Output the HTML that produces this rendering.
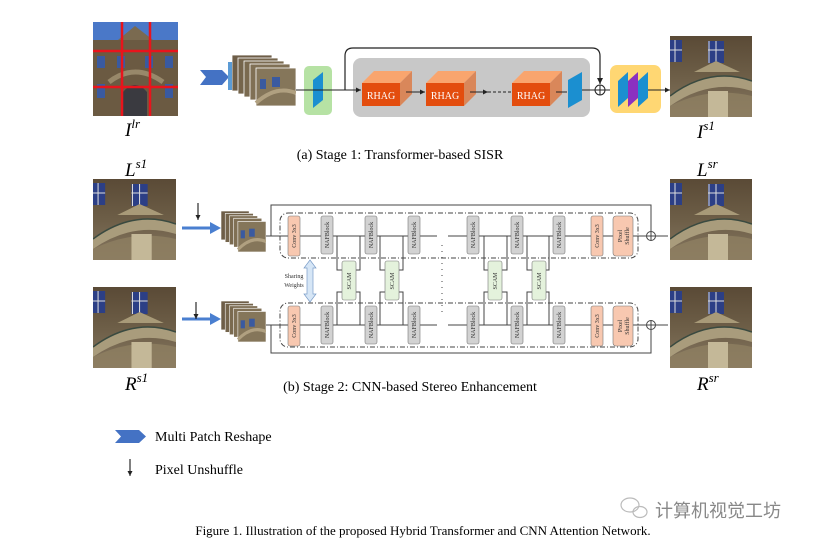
<!DOCTYPE html>
<html><head><meta charset="utf-8"><style>
body{margin:0;background:#fff}
svg{display:block}
text{font-family:"Liberation Serif",serif}
</style></head><body>
<svg width="819" height="546" viewBox="0 0 819 546" xmlns="http://www.w3.org/2000/svg">
<defs>
<marker id="a" markerWidth="6" markerHeight="6" refX="5" refY="3" orient="auto"><path d="M0,0.5 L5,3 L0,5.5z" fill="#222"/></marker>
<linearGradient id="ph" x1="0" y1="0" x2="0" y2="1"><stop offset="0" stop-color="#5a4a36"/><stop offset="0.5" stop-color="#6d5e47"/><stop offset="1" stop-color="#857660"/></linearGradient>
<symbol id="photo" viewBox="0 0 82 81" preserveAspectRatio="none">
<rect width="82" height="81" fill="url(#ph)"/>
<rect x="0" y="4" width="12" height="22" fill="#2c3f86"/><rect x="38" y="5" width="16" height="22" fill="#2c3f86"/>
<path d="M39 5v22M46 5v22M38 14h16M0 14h12M5 4v22" stroke="#ddd" stroke-width="1"/>
<path d="M24 36 L46 25 L70 36z" fill="#a89a78"/>
<path d="M0 60 Q40 30 82 45 L82 55 Q40 42 0 70z" fill="#a99c7c"/>
<path d="M0 70 Q40 50 82 60 L82 81 L0 81z" fill="#8f8062" opacity="0.8"/>
<rect x="38" y="55" width="20" height="26" fill="#c4b898"/>
<path d="M0 60 Q40 30 82 45" stroke="#3a4a40" stroke-width="1.5" fill="none"/>
</symbol>
<symbol id="fac" viewBox="0 0 85 94" preserveAspectRatio="none">
<rect width="85" height="94" fill="#6b5a42"/><rect width="85" height="18" fill="#4a78c8"/>
<path d="M25 18 L42 4 L60 18z" fill="#7a6a50"/>
<rect x="4" y="34" width="8" height="12" fill="#3a5aa0"/><rect x="24" y="34" width="8" height="12" fill="#3a5aa0"/><rect x="52" y="34" width="8" height="12" fill="#3a5aa0"/><rect x="72" y="34" width="8" height="12" fill="#3a5aa0"/>
<rect x="4" y="62" width="8" height="14" fill="#3a5aa0"/><rect x="72" y="62" width="8" height="14" fill="#3a5aa0"/>
<path d="M30 94 V70 Q42 56 54 70 V94z" fill="#3a3a40"/>
<path d="M16 60 Q42 40 70 60" stroke="#98886a" stroke-width="5" fill="none"/>
</symbol>
<symbol id="stack" viewBox="0 0 64 51" preserveAspectRatio="none">
<rect x="0" y="0" width="40" height="36" fill="#6e5e48" stroke="#fff" stroke-width="0.8"/>
<rect x="6" y="3" width="40" height="36" fill="#75654c" stroke="#fff" stroke-width="0.8"/>
<rect x="12" y="6" width="40" height="36" fill="#7a6a50" stroke="#fff" stroke-width="0.8"/>
<rect x="18" y="9" width="40" height="36" fill="#807055" stroke="#fff" stroke-width="0.8"/>
<rect x="24" y="13" width="40" height="38" fill="#85765a" stroke="#fff" stroke-width="0.8"/>
<rect x="40" y="22" width="8" height="10" fill="#3a5aa0"/><rect x="28" y="24" width="6" height="10" fill="#3a5aa0"/>
<path d="M24 48 Q44 30 64 38" stroke="#b0a080" stroke-width="4" fill="none"/>
</symbol>
</defs>

<!-- Stage 1 -->
<use href="#fac" x="93" y="22" width="85" height="94"/>
<path d="M93 51H178M93 87H178M122 22V116M150 22V116" stroke="#e8141c" stroke-width="2.5"/>
<text x="125" y="136" font-size="19" font-style="italic">I<tspan font-size="13" dy="-8">lr</tspan></text>
<path d="M200 70 H222 L229 77 L222 85 H200 L206 77z" fill="#4472c4"/>
<rect x="228" y="62" width="4" height="28" fill="#5b9bd5"/>
<use href="#stack" x="232" y="55" width="64" height="51"/>
<rect x="304" y="66" width="28" height="49" rx="5" fill="#b6e2a4"/>
<path d="M313 80 L323 72 V100 L313 108z" fill="#1b8fd0"/>
<rect x="353" y="58" width="237" height="59" rx="8" fill="#c8c8c8"/>
<path d="M296 90H361" stroke="#222" marker-end="url(#a)"/>
<path d="M345 90 V56 Q345 48 353 48 H592 Q600 48 600 56 V84" stroke="#222" fill="none" stroke-width="1.2" marker-end="url(#a)"/>
<g>
<path d="M362 83 L374 71 H412 L400 83z" fill="#f9a56e"/><path d="M400 83 L412 71 V94 L400 106z" fill="#d9875a"/><rect x="362" y="83" width="38" height="23" fill="#e34d0e"/>
<text x="381" y="99" font-size="10" fill="#fff" text-anchor="middle">RHAG</text>
<path d="M426 83 L438 71 H476 L464 83z" fill="#f9a56e"/><path d="M464 83 L476 71 V94 L464 106z" fill="#d9875a"/><rect x="426" y="83" width="38" height="23" fill="#e34d0e"/>
<text x="445" y="99" font-size="10" fill="#fff" text-anchor="middle">RHAG</text>
<path d="M512 83 L524 71 H562 L550 83z" fill="#f9a56e"/><path d="M550 83 L562 71 V94 L550 106z" fill="#d9875a"/><rect x="512" y="83" width="38" height="23" fill="#e34d0e"/>
<text x="531" y="99" font-size="10" fill="#fff" text-anchor="middle">RHAG</text>
</g>
<path d="M406 92H425" stroke="#222" marker-end="url(#a)"/>
<path d="M470 92H488" stroke="#222" marker-end="url(#a)"/>
<path d="M488 92H511" stroke="#222" stroke-dasharray="3,2"/>
<path d="M556 92H567" stroke="#222"/>
<path d="M568 80 L582 72 V100 L568 108z" fill="#1b8fd0"/>
<path d="M582 90H595" stroke="#222"/>
<circle cx="600" cy="90" r="5" fill="#fff" stroke="#222"/><path d="M595 90H605M600 85V95" stroke="#222"/>
<path d="M605 90H618" stroke="#222" marker-end="url(#a)"/>
<rect x="610" y="65" width="51" height="48" rx="7" fill="#ffd773"/>
<path d="M618 81 L628 72 V98 L618 107z" fill="#1b8fd0"/>
<path d="M628 81 L638 72 V98 L628 107z" fill="#8b30c0"/>
<path d="M638 81 L648 72 V98 L638 107z" fill="#1b8fd0"/>
<path d="M648 90H670" stroke="#222" marker-end="url(#a)"/>
<use href="#photo" x="670" y="36" width="82" height="81"/>
<text x="697" y="138" font-size="19" font-style="italic">I<tspan font-size="13" dy="-8">s1</tspan></text>
<text x="400" y="159" font-size="14" text-anchor="middle">(a) Stage 1: Transformer-based SISR</text>

<!-- Stage 2 -->
<text x="125" y="176" font-size="19" font-style="italic">L<tspan font-size="13" dy="-8">s1</tspan></text>
<use href="#photo" x="93" y="179" width="83" height="81"/>
<use href="#photo" x="93" y="287" width="83" height="81"/>
<text x="125" y="390" font-size="19" font-style="italic">R<tspan font-size="13" dy="-8">s1</tspan></text>
<text x="697" y="176" font-size="19" font-style="italic">L<tspan font-size="13" dy="-8">sr</tspan></text>
<use href="#photo" x="670" y="179" width="82" height="81"/>
<use href="#photo" x="670" y="287" width="82" height="81"/>
<text x="697" y="390" font-size="19" font-style="italic">R<tspan font-size="13" dy="-8">sr</tspan></text>

<g stroke="#4a7fd0" stroke-width="3"><path d="M182 228H212"/><path d="M182 319H212"/></g>
<path d="M210 222L221 228L210 234z" fill="#4a7fd0"/><path d="M210 313L221 319L210 325z" fill="#4a7fd0"/>
<path d="M198 203V220" stroke="#000" marker-end="url(#a)"/><path d="M196 302V319" stroke="#000" marker-end="url(#a)"/>
<use href="#stack" x="221" y="211" width="45" height="41"/>
<use href="#stack" x="221" y="301" width="45" height="41"/>

<g stroke="#444" fill="none" stroke-width="1">
<path d="M266 236H288M271 236V205H651V231"/>
<path d="M266 325H288M271 325V353H651V330"/>
<rect x="280" y="213" width="358" height="45" rx="8" stroke-dasharray="5,2,1,2"/>
<rect x="280" y="303" width="358" height="44" rx="8" stroke-dasharray="5,2,1,2"/>
<path d="M300 236H321M333 236H365M377 236H408M420 236H437M448 236H467M479 236H511M523 236H553M565 236H591M603 236H613M633 236H646M656 236H668"/>
<path d="M300 325H321M333 325H365M377 325H408M420 325H437M448 325H467M479 325H511M523 325H553M565 325H591M603 325H613M633 325H646M656 325H668"/>
<path d="M337 236V270H342M337 325V292H342M356 270H360V236M356 292H360V325"/>
<path d="M380 236V270H385M380 325V292H385M398 270H403V236M398 292H403V325"/>
<path d="M484 236V270H488M484 325V292H488M502 270H507V236M502 292H507V325"/>
<path d="M527 236V270H532M527 325V292H532M545 270H549V236M545 292H549V325"/>
<path d="M442 245V315" stroke-dasharray="1,5"/>
</g>
<circle cx="651" cy="236" r="4.5" fill="#fff" stroke="#444"/><path d="M647 236H655M651 232V240" stroke="#444"/>
<circle cx="651" cy="325" r="4.5" fill="#fff" stroke="#444"/><path d="M647 325H655M651 321V329" stroke="#444"/>
<g font-size="6.5" text-anchor="middle">
<g fill="#f8c8b0" stroke="#777" stroke-width="0.6">
<rect x="288" y="216" width="12" height="40" rx="2"/><rect x="288" y="306" width="12" height="40" rx="2"/>
<rect x="591" y="216" width="12" height="40" rx="2"/><rect x="591" y="306" width="12" height="40" rx="2"/>
<rect x="613" y="216" width="20" height="40" rx="3"/><rect x="613" y="306" width="20" height="40" rx="3"/>
</g>
<g fill="#d2d2d2" stroke="#777" stroke-width="0.6">
<rect x="321" y="216" width="12" height="38" rx="2"/><rect x="365" y="216" width="12" height="38" rx="2"/><rect x="408" y="216" width="12" height="38" rx="2"/><rect x="467" y="216" width="12" height="38" rx="2"/><rect x="511" y="216" width="12" height="38" rx="2"/><rect x="553" y="216" width="12" height="38" rx="2"/>
<rect x="321" y="306" width="12" height="38" rx="2"/><rect x="365" y="306" width="12" height="38" rx="2"/><rect x="408" y="306" width="12" height="38" rx="2"/><rect x="467" y="306" width="12" height="38" rx="2"/><rect x="511" y="306" width="12" height="38" rx="2"/><rect x="553" y="306" width="12" height="38" rx="2"/>
</g>
<g fill="#e4f2dc" stroke="#777" stroke-width="0.6">
<rect x="342" y="261" width="14" height="39" rx="2"/><rect x="385" y="261" width="14" height="39" rx="2"/><rect x="488" y="261" width="14" height="39" rx="2"/><rect x="532" y="261" width="14" height="39" rx="2"/>
</g>
</g>
<g font-size="6" fill="#333" text-anchor="middle">
<text transform="translate(296,236) rotate(-90)">Conv 3x3</text><text transform="translate(296,326) rotate(-90)">Conv 3x3</text>
<text transform="translate(599,236) rotate(-90)">Conv 3x3</text><text transform="translate(599,326) rotate(-90)">Conv 3x3</text>
<text transform="translate(622,236) rotate(-90)">Pixel</text><text transform="translate(629,236) rotate(-90)">Shuffle</text>
<text transform="translate(622,326) rotate(-90)">Pixel</text><text transform="translate(629,326) rotate(-90)">Shuffle</text>
<text transform="translate(329,235) rotate(-90)">NAFBlock</text><text transform="translate(373,235) rotate(-90)">NAFBlock</text><text transform="translate(416,235) rotate(-90)">NAFBlock</text><text transform="translate(475,235) rotate(-90)">NAFBlock</text><text transform="translate(519,235) rotate(-90)">NAFBlock</text><text transform="translate(561,235) rotate(-90)">NAFBlock</text>
<text transform="translate(329,325) rotate(-90)">NAFBlock</text><text transform="translate(373,325) rotate(-90)">NAFBlock</text><text transform="translate(416,325) rotate(-90)">NAFBlock</text><text transform="translate(475,325) rotate(-90)">NAFBlock</text><text transform="translate(519,325) rotate(-90)">NAFBlock</text><text transform="translate(561,325) rotate(-90)">NAFBlock</text>
<text transform="translate(351,281) rotate(-90)">SCAM</text><text transform="translate(394,281) rotate(-90)">SCAM</text><text transform="translate(497,281) rotate(-90)">SCAM</text><text transform="translate(541,281) rotate(-90)">SCAM</text>
<text x="294" y="278">Sharing</text><text x="294" y="287">Weights</text>
</g>
<path d="M310 260 L316 268 H313 V294 H316 L310 302 L304 294 H307 V268 H304z" fill="#d6e6f6" stroke="#7a9cc8" stroke-width="0.7"/>
<text x="410" y="391" font-size="14" text-anchor="middle">(b) Stage 2: CNN-based Stereo Enhancement</text>

<!-- legend -->
<path d="M115 430 H139 L146 436.5 L139 443 H115 L121 436.5z" fill="#4472c4"/>
<text x="155" y="441" font-size="14">Multi Patch Reshape</text>
<path d="M130 459V476" stroke="#000" marker-end="url(#a)"/>
<text x="155" y="474" font-size="14">Pixel Unshuffle</text>

<g fill="none" stroke="#bbb" stroke-width="1.2"><ellipse cx="630" cy="505" rx="9" ry="7"/><ellipse cx="640" cy="512" rx="7" ry="5.5"/></g>
<text x="655" y="517" font-size="18" fill="#888" style="font-family:'Noto Sans CJK SC',sans-serif">计算机视觉工坊</text>
<text x="423" y="535" font-size="13" text-anchor="middle">Figure 1. Illustration of the proposed Hybrid Transformer and CNN Attention Network.</text>
</svg>
</body></html>
